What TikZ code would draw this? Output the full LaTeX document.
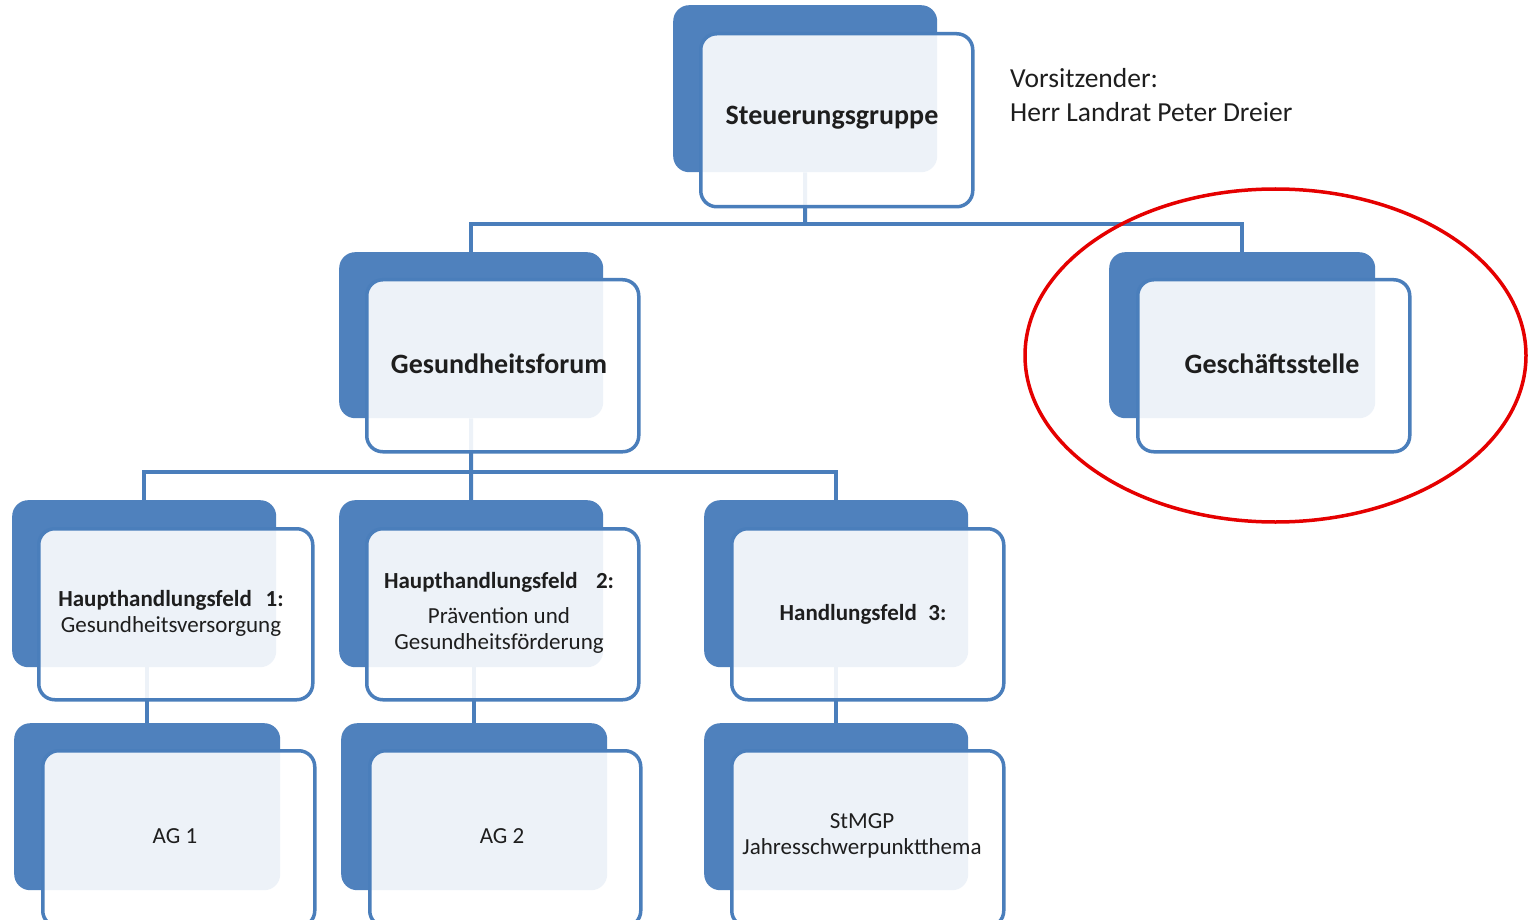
\documentclass[tikz,border=0pt]{standalone}
\usepackage{fontspec}
\setmainfont{Carlito}
\definecolor{ablue}{HTML}{4F81BD}
\definecolor{lblue}{HTML}{4A7EBB}
\definecolor{txt}{HTML}{1E1E1E}
\begin{document}
\begin{tikzpicture}[x=1pt,y=-1pt,
  backbox/.style={fill=ablue,draw=none,rounded corners=16pt,inner sep=0pt,anchor=north west},
  frontbox/.style={fill=white,fill opacity=0.9,draw=lblue,line width=3.5pt,rounded corners=16pt,inner sep=0pt,anchor=north west},
  conn/.style={draw=lblue,line width=4pt},
  lbl/.style={inner sep=0pt,align=center,text=txt,yshift=-3pt},
  bigtxt/.style={lbl,font=\fontsize{28}{32}\selectfont\bfseries},
  smalltxt/.style={lbl,font=\fontsize{23}{26}\selectfont}
]
\useasboundingbox (0,0) rectangle (1532,920);
\clip (0,0) rectangle (1532,920);
\fill[white] (0,0) rectangle (1532,920);
% back boxes
\node[backbox,minimum width=264pt,minimum height=167pt] (steuB) at (673,5) {};
\node[backbox,minimum width=264pt,minimum height=166pt] (forumB) at (339,252) {};
\node[backbox,minimum width=266pt,minimum height=166pt] (gesB) at (1109,252) {};
\node[backbox,minimum width=264pt,minimum height=167pt] (hhfaB) at (12,500) {};
\node[backbox,minimum width=264pt,minimum height=167pt] (hhfbB) at (339,500) {};
\node[backbox,minimum width=264pt,minimum height=167pt] (hfcB) at (704,500) {};
\node[backbox,minimum width=266pt,minimum height=167pt] (agaB) at (14,723) {};
\node[backbox,minimum width=266pt,minimum height=167pt] (agbB) at (341,723) {};
\node[backbox,minimum width=264pt,minimum height=167pt] (stmB) at (704,723) {};
% connectors
\coordinate (j1) at (805,224);
\coordinate (j2) at (471,472);
\draw[conn] (steuB.south) -- (j1);
\draw[conn] (forumB.north) |- (j1) -| (gesB.north);
\draw[conn] (forumB.south) -- (j2);
\draw[conn] (hhfaB.north) |- (j2) -| (hfcB.north);
\draw[conn] (j2) -- (hhfbB.north);
\draw[conn] (agaB.north |- hhfaB.south) -- (agaB.north);
\draw[conn] (agbB.north |- hhfbB.south) -- (agbB.north);
\draw[conn] (stmB.north |- hfcB.south) -- (stmB.north);
% front boxes
\node[frontbox,minimum width=272pt,minimum height=173pt] (steu) at (699,32) {};
\node[frontbox,minimum width=272pt,minimum height=172pt] (forum) at (365,278) {};
\node[frontbox,minimum width=272pt,minimum height=172pt] (ges) at (1136,278) {};
\node[frontbox,minimum width=274pt,minimum height=171pt] (hhfa) at (37,527) {};
\node[frontbox,minimum width=272pt,minimum height=171pt] (hhfb) at (365,527) {};
\node[frontbox,minimum width=272pt,minimum height=171pt] (hfc) at (730,527) {};
\node[frontbox,minimum width=272pt,minimum height=176pt] (aga) at (41,749) {};
\node[frontbox,minimum width=271pt,minimum height=176pt] (agb) at (368,749) {};
\node[frontbox,minimum width=272pt,minimum height=176pt] (stm) at (730,749) {};
% labels
\node[bigtxt] (steuT) at (832,115) {Steuerungsgruppe};
\node[bigtxt] (forumT) at (499,361) {Gesundheitsforum};
\node[bigtxt] (gesT) at (1272,361) {Geschäftsstelle};
\node[smalltxt] (hhfaT) at (171,610)
  {\textbf{Haupthandlungsfeld\hspace{0.6em}1:}\\Gesundheitsversorgung};
\node[smalltxt] (hhfbT) at (499,610)
  {\textbf{Haupthandlungsfeld\hspace{0.8em}2:}\\[9pt]Prävention und\\Gesundheitsförderung};
\node[smalltxt] (hfcT) at (863,611) {\textbf{Handlungsfeld\hspace{0.5em}3:}};
\node[smalltxt] (agaT) at (175,833) {AG 1};
\node[smalltxt] (agbT) at (502,833) {AG 2};
\node[smalltxt] (stmT) at (862,833) {StMGP\\Jahresschwerpunktthema};
% chairman text
\node[inner sep=0pt,align=left,text=txt,font=\fontsize{27.5}{34}\selectfont,anchor=west] (vors) at (1010,95)
  {Vorsitzender:\\Herr Landrat Peter Dreier};
% red ellipse
\draw[red!90!black,line width=3.5pt] (1275.5,355.5) ellipse [x radius=250.5pt,y radius=166.5pt];
\end{tikzpicture}
\end{document}
